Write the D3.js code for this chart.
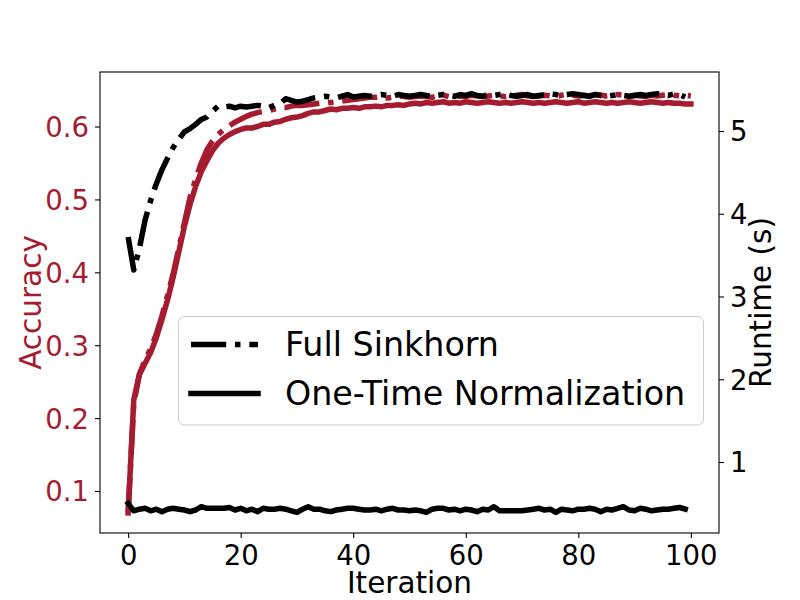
<html>
<head>
<script src="https://d3js.org/d3.v7.min.js"></script>
<style>
    body { margin: 0; background: #fff; }
    text { font-family: "DejaVu Sans", sans-serif; }
</style>
</head>
<body>
<svg id="chart" width="800" height="600"></svg>
<script>
// accuracy per iteration (left axis)
const accFull = [
    0.070, 0.220, 0.260, 0.280, 0.295, 0.315, 0.340, 0.368, 0.398, 0.433,
    0.468, 0.503, 0.528, 0.550, 0.568, 0.580, 0.589, 0.596, 0.601, 0.606,
    0.610, 0.614, 0.617, 0.619, 0.621, 0.622, 0.624, 0.626, 0.626, 0.628,
    0.629, 0.629, 0.630, 0.631, 0.632, 0.632, 0.633, 0.634, 0.635, 0.636,
    0.637, 0.638, 0.639, 0.640, 0.640, 0.641, 0.639, 0.640, 0.642, 0.641,
    0.640, 0.641, 0.642, 0.641, 0.640, 0.642, 0.643, 0.641, 0.640, 0.642,
    0.641, 0.643, 0.642, 0.641, 0.642, 0.643, 0.642, 0.641, 0.642, 0.643,
    0.644, 0.642, 0.641, 0.642, 0.643, 0.642, 0.641, 0.643, 0.644, 0.643,
    0.642, 0.643, 0.642, 0.644, 0.643, 0.642, 0.643, 0.644, 0.643, 0.642,
    0.643, 0.642, 0.641, 0.643, 0.642, 0.643, 0.644, 0.643, 0.642, 0.643,
    0.642
];
const accOneTime = [
    0.070, 0.225, 0.260, 0.275, 0.290, 0.310, 0.335, 0.362, 0.393, 0.428,
    0.463, 0.493, 0.518, 0.538, 0.553, 0.567, 0.577, 0.584, 0.589, 0.593,
    0.596, 0.598, 0.598, 0.600, 0.603, 0.603, 0.606, 0.607, 0.610, 0.612,
    0.613, 0.615, 0.618, 0.620, 0.620, 0.622, 0.624, 0.623, 0.625, 0.625,
    0.626, 0.625, 0.627, 0.627, 0.628, 0.627, 0.629, 0.629, 0.630, 0.629,
    0.631, 0.632, 0.631, 0.633, 0.632, 0.633, 0.634, 0.632, 0.633, 0.632,
    0.634, 0.633, 0.632, 0.633, 0.634, 0.633, 0.632, 0.633, 0.632, 0.633,
    0.634, 0.633, 0.632, 0.633, 0.632, 0.633, 0.634, 0.633, 0.632, 0.633,
    0.634, 0.632, 0.633, 0.634, 0.633, 0.632, 0.633, 0.632, 0.633, 0.634,
    0.633, 0.632, 0.633, 0.634, 0.633, 0.632, 0.633, 0.632, 0.632, 0.631,
    0.631
];

// runtime per iteration in seconds (right axis)
const rtFull = [
    3.72, 3.32, 3.58, 3.92, 4.16, 4.36, 4.53, 4.67, 4.80, 4.90,
    4.99, 5.03, 5.08, 5.14, 5.17, 5.24, 5.30, 5.29, 5.30, 5.28,
    5.30, 5.29, 5.30, 5.31, 5.30, 5.28, 5.31, 5.33, 5.39, 5.37,
    5.35, 5.36, 5.38, 5.40, 5.41, 5.42, 5.41, 5.40, 5.42, 5.44,
    5.41, 5.42, 5.43, 5.42, 5.43, 5.44, 5.43, 5.42, 5.44, 5.43,
    5.42, 5.43, 5.44, 5.43, 5.42, 5.43, 5.44, 5.43, 5.42, 5.44,
    5.43, 5.45, 5.43, 5.42, 5.44, 5.43, 5.44, 5.45, 5.43, 5.42,
    5.43, 5.44, 5.42, 5.43, 5.44, 5.45, 5.44, 5.43, 5.44, 5.45,
    5.44, 5.43, 5.42, 5.44, 5.43, 5.42, 5.43, 5.44, 5.43, 5.42,
    5.43, 5.44, 5.43, 5.44, 5.45, 5.44, 5.43, 5.45, 5.44, 5.41
];
const rtOneTime = [
    0.50, 0.41, 0.43, 0.44, 0.41, 0.43, 0.40, 0.43, 0.44, 0.43,
    0.42, 0.40, 0.42, 0.46, 0.44, 0.44, 0.44, 0.44, 0.45, 0.42,
    0.44, 0.41, 0.43, 0.40, 0.44, 0.43, 0.43, 0.44, 0.43, 0.41,
    0.39, 0.43, 0.46, 0.43, 0.43, 0.41, 0.40, 0.42, 0.43, 0.44,
    0.44, 0.43, 0.42, 0.42, 0.43, 0.41, 0.43, 0.44, 0.42, 0.42,
    0.41, 0.42, 0.41, 0.39, 0.43, 0.44, 0.44, 0.42, 0.43, 0.41,
    0.43, 0.42, 0.40, 0.43, 0.42, 0.46, 0.41, 0.41, 0.41, 0.41,
    0.41, 0.42, 0.43, 0.44, 0.42, 0.43, 0.39, 0.43, 0.42, 0.41,
    0.43, 0.43, 0.44, 0.43, 0.40, 0.43, 0.42, 0.44, 0.46, 0.42,
    0.41, 0.44, 0.43, 0.41, 0.42, 0.43, 0.43, 0.44, 0.45, 0.43
];

const xTicks = [0, 20, 40, 60, 80, 100];
const accTicks = [0.1, 0.2, 0.3, 0.4, 0.5, 0.6];
const rtTicks = [1, 2, 3, 4, 5];
const legendLabels = ["Full Sinkhorn", "One-Time Normalization"];

const RED = "#A51C30";
const FS_TICK = 27.5;
const FS_LABEL = 29.5;
const FS_LEGEND = 33.3;
const LW = 5.5;
const dashDot = [6.4, 1.6, 1.0, 1.6].map(v => v * LW).join(",");

const plotL = 100, plotR = 719, plotT = 72, plotB = 533;

const svg = d3.select("#chart");

const x = d3.scaleLinear().domain([-5, 105]).range([plotL, plotR]);
const yAcc = d3.scaleLinear().domain([0.0424, 0.6748]).range([plotB, plotT]);
const yRt = d3.scaleLinear().domain([0.142, 5.713]).range([plotB, plotT]);

svg.append("defs").append("clipPath").attr("id", "plot")
    .append("rect")
    .attr("x", plotL).attr("y", plotT)
    .attr("width", plotR - plotL).attr("height", plotB - plotT);

const plot = svg.append("g").attr("clip-path", "url(#plot)");

const accLine = d3.line().x((d, i) => x(i)).y(d => yAcc(d));
const rtLine = d3.line().x((d, i) => x(i)).y(d => yRt(d));

// accuracy lines first, runtime (twin axis) on top
plot.append("path").datum(accOneTime)
    .attr("d", accLine)
    .attr("fill", "none").attr("stroke", RED).attr("stroke-width", LW)
    .attr("stroke-linecap", "square").attr("stroke-linejoin", "round");
plot.append("path").datum(accFull)
    .attr("d", accLine)
    .attr("fill", "none").attr("stroke", RED).attr("stroke-width", LW)
    .attr("stroke-dasharray", dashDot).attr("stroke-linejoin", "round");
plot.append("path").datum(rtOneTime)
    .attr("d", rtLine)
    .attr("fill", "none").attr("stroke", "#000").attr("stroke-width", LW)
    .attr("stroke-linecap", "square").attr("stroke-linejoin", "round");
plot.append("path").datum(rtFull)
    .attr("d", rtLine)
    .attr("fill", "none").attr("stroke", "#000").attr("stroke-width", LW)
    .attr("stroke-dasharray", dashDot).attr("stroke-linejoin", "round");

// frame
svg.append("rect")
    .attr("x", plotL).attr("y", plotT)
    .attr("width", plotR - plotL).attr("height", plotB - plotT)
    .attr("fill", "none").attr("stroke", "#000").attr("stroke-width", 1.1);

function styleAxis(g, color) {
    g.select(".domain").remove();
    g.selectAll(".tick line").attr("stroke", "#000").attr("stroke-width", 1.1);
    g.selectAll(".tick text")
        .attr("font-size", FS_TICK)
        .attr("font-family", "DejaVu Sans")
        .attr("fill", color);
}

svg.append("g")
    .attr("transform", `translate(0,${plotB})`)
    .call(d3.axisBottom(x).tickValues(xTicks).tickSize(5).tickPadding(7).tickFormat(d3.format("d")))
    .call(g => styleAxis(g, "#000"));

svg.append("g")
    .attr("transform", `translate(${plotL},0)`)
    .call(d3.axisLeft(yAcc).tickValues(accTicks).tickSize(5).tickPadding(6).tickFormat(d3.format(".1f")))
    .call(g => styleAxis(g, RED))
    .selectAll(".tick text").attr("dy", "0.36em");

svg.append("g")
    .attr("transform", `translate(${plotR},0)`)
    .call(d3.axisRight(yRt).tickValues(rtTicks).tickSize(5).tickPadding(6).tickFormat(d3.format("d")))
    .call(g => styleAxis(g, "#000"))
    .selectAll(".tick text").attr("dy", "0.36em");

// axis titles
svg.append("text")
    .attr("transform", `translate(41,${(plotT + plotB) / 2}) rotate(-90)`)
    .attr("text-anchor", "middle").attr("font-size", FS_LABEL).attr("fill", RED)
    .text("Accuracy");
svg.append("text")
    .attr("transform", `translate(771,${(plotT + plotB) / 2}) rotate(-90)`)
    .attr("text-anchor", "middle").attr("font-size", FS_LABEL).attr("fill", "#000")
    .text("Runtime (s)");
svg.append("text")
    .attr("x", (plotL + plotR) / 2).attr("y", 593)
    .attr("text-anchor", "middle").attr("font-size", FS_LABEL).attr("fill", "#000")
    .text("Iteration");

// legend
const legend = svg.append("g");
legend.append("rect")
    .attr("x", 178.5).attr("y", 316.5).attr("width", 525).attr("height", 108.5)
    .attr("rx", 6).attr("ry", 6)
    .attr("fill", "#fff").attr("fill-opacity", 0.8)
    .attr("stroke", "#cccccc").attr("stroke-width", 1);

const item = legend.selectAll("g.item")
    .data(legendLabels)
    .join("g")
    .attr("class", "item")
    .attr("transform", (d, i) => `translate(0,${344.5 + i * 49})`);

item.append("line")
    .attr("x1", 191).attr("x2", 258).attr("y1", 0).attr("y2", 0)
    .attr("stroke", "#000").attr("stroke-width", LW)
    .attr("stroke-dasharray", (d, i) => i === 0 ? dashDot : null)
    .attr("stroke-linecap", (d, i) => i === 0 ? "butt" : "square");

item.append("text")
    .attr("x", 285).attr("y", 0).attr("dy", "0.35em")
    .attr("font-size", FS_LEGEND).attr("fill", "#000")
    .text(d => d);
</script>
</body>
</html>
